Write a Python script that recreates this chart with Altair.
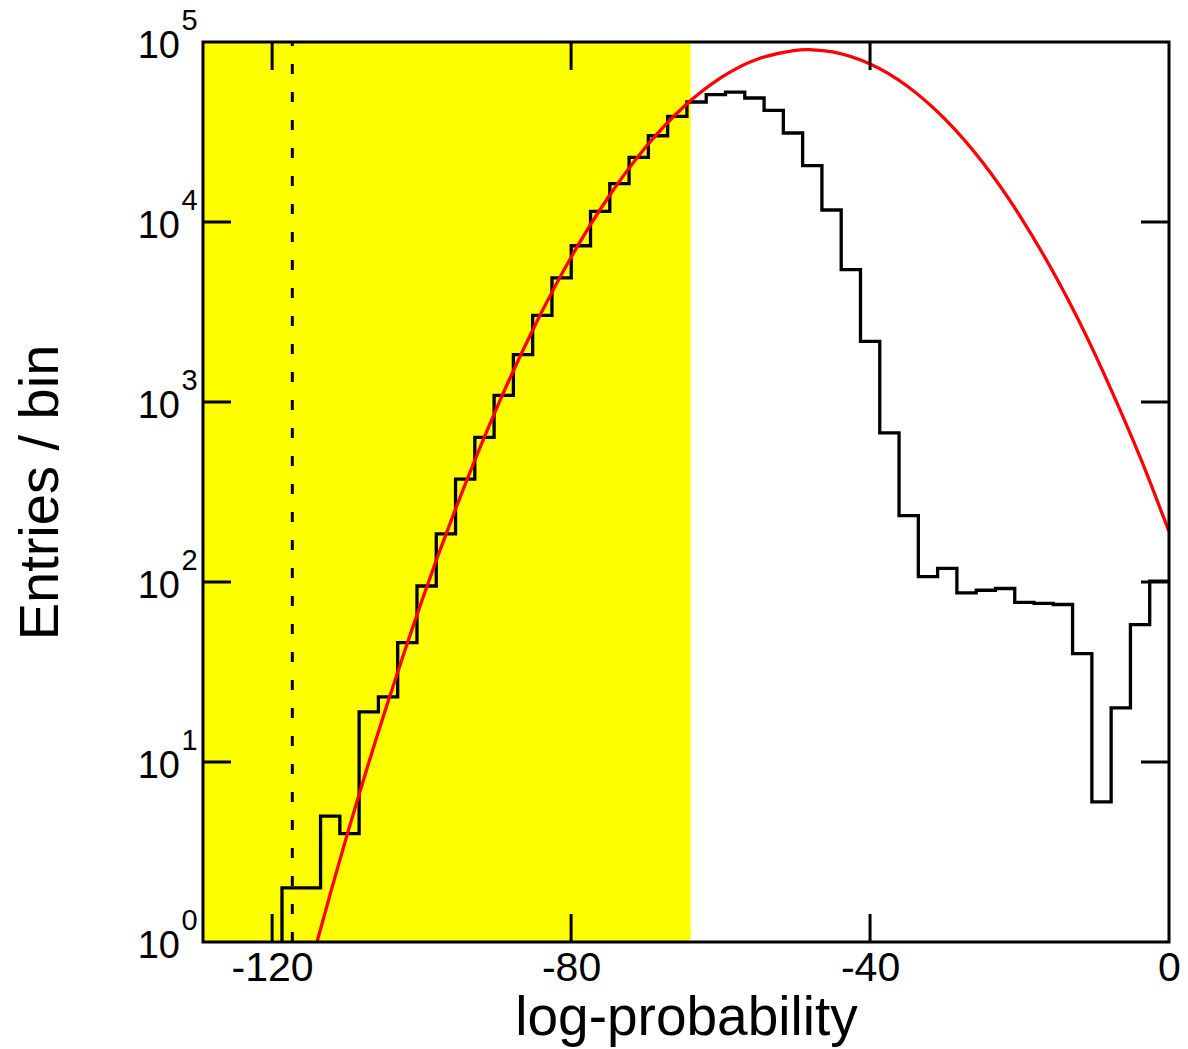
import altair as alt
import pandas as pd

FONT = "Liberation Sans, Arial, Helvetica, sans-serif"

# ---- axis ranges ----
X_MIN, X_MAX = -129.25, 0.0
Y_MIN, Y_MAX = 1, 100000

# ---- histogram (50 bins of width 2.58 starting at -129) ----
BIN_START = -129.0
BIN_WIDTH = 2.58
bin_counts = [0, 0, 0, 0, 2, 2, 5, 4, 19, 23, 46, 95, 185, 373, 636, 1088, 1832,
              3030, 4887, 7380, 11450, 16330, 22850, 30150, 38620, 46430, 50960,
              52720, 48850, 41690, 31220, 20550, 11660, 5433, 2172, 673, 234, 107,
              119, 87, 90, 92, 77, 76, 75, 40, 6, 20, 58, 101]

# ---- red fitted curve ----
fit_logprob = [-114, -112, -110, -108, -105, -100, -95, -90, -85, -80, -75, -70,
               -65, -60, -55, -50, -48, -45, -40, -35, -30, -25, -20, -15, -10,
               -5, -2.5, 0]
fit_entries = [1.0, 2.0, 3.9, 7.4, 18.6, 78, 285, 916, 2580, 6370, 13770, 26100,
               43400, 63100, 80500, 89900, 90600, 88000, 75500, 56800, 37400,
               21600, 10900, 4840, 1880, 640, 356, 191]

# ---- other elements ----
cut_value = -117.3            # dashed vertical line
signal_region = [X_MIN, -64.0]  # yellow band
x_tick_values = [-120, -80, -40, 0]
x_minor_ticks = [-120, -80, -40]
y_decades = [1, 10, 100, 1000, 10000, 100000]
y_exponents = ["0", "1", "2", "3", "4", "5"]

W, H = 966, 900
TICK = 28

# ---- build tables ----
first = next(i for i, c in enumerate(bin_counts) if c > 0)
rows = [{"x": BIN_START + first * BIN_WIDTH, "y": Y_MIN, "idx": 0}]
for i in range(first, len(bin_counts)):
    rows.append({"x": BIN_START + i * BIN_WIDTH, "y": bin_counts[i], "idx": len(rows)})
rows.append({"x": BIN_START + len(bin_counts) * BIN_WIDTH, "y": bin_counts[-1], "idx": len(rows)})
hist_df = pd.DataFrame(rows)

fit_df = pd.DataFrame({"x": fit_logprob, "y": fit_entries})
band_df = pd.DataFrame({"x": [signal_region[0]], "x2": [signal_region[1]]})
cut_df = pd.DataFrame({"x": [cut_value]})
xt_df = pd.DataFrame({"x": x_minor_ticks})
yt_df = pd.DataFrame({"y": y_decades[1:-1]})
ylab_df = pd.DataFrame({"y": y_decades, "base": ["10"] * len(y_decades), "exp": y_exponents})
frame_df = pd.DataFrame({"k": [0]})

x_scale = alt.Scale(domain=[X_MIN, X_MAX], nice=False, zero=False)
y_scale = alt.Scale(type="log", domain=[Y_MIN, Y_MAX], nice=False)

x_axis = alt.Axis(
    title="log-probability", values=x_tick_values, ticks=False, domain=False, grid=False,
    labelExpr="datum.value < 0 ? '-' + abs(datum.value) : '' + datum.value",
    labelFont=FONT, labelFontSize=41, labelColor="black", labelPadding=6,
    labelFlush=False, labelOverlap=False,
    titleFont=FONT, titleFontSize=55, titleFontWeight="normal", titleColor="black",
    titleBaseline="alphabetic", titleAlign="center", titleX=W / 2, titleY=92,
)
y_axis = alt.Axis(
    title="Entries / bin", labels=False, ticks=False, domain=False, grid=False,
    titleFont=FONT, titleFontSize=56, titleFontWeight="normal", titleColor="black",
    titleBaseline="alphabetic", titleAlign="center", titleAngle=270,
    titleX=-146, titleY=H / 2,
)


def X(field="x"):
    return alt.X(f"{field}:Q", scale=x_scale, axis=x_axis)


def Y(field="y"):
    return alt.Y(f"{field}:Q", scale=y_scale, axis=y_axis)


band = alt.Chart(band_df).mark_rect(color="#ffff00").encode(
    x=X(), x2="x2:Q", y=alt.value(0), y2=alt.value(H)
)

hist = alt.Chart(hist_df).mark_line(
    color="black", strokeWidth=3.3, interpolate="step-after", strokeJoin="miter", strokeCap="butt"
).encode(x=X(), y=Y(), order="idx:Q")

fit = alt.Chart(fit_df).mark_line(
    color="#ff0000", strokeWidth=3.3, interpolate="natural", clip=True
).encode(x=X(), y=Y())

cut = alt.Chart(cut_df).mark_rule(
    color="black", strokeWidth=3, strokeDash=[10, 18]
).encode(x=X(), y=alt.value(H), y2=alt.value(0))

xt_bottom = alt.Chart(xt_df).mark_rule(color="black", strokeWidth=3).encode(
    x=X(), y=alt.value(H), y2=alt.value(H - TICK)
)
xt_top = alt.Chart(xt_df).mark_rule(color="black", strokeWidth=3).encode(
    x=X(), y=alt.value(0), y2=alt.value(TICK)
)
yt_left = alt.Chart(yt_df).mark_rule(color="black", strokeWidth=3).encode(
    y=Y(), x=alt.value(0), x2=alt.value(TICK)
)
yt_right = alt.Chart(yt_df).mark_rule(color="black", strokeWidth=3).encode(
    y=Y(), x=alt.value(W - TICK), x2=alt.value(W)
)

ylab_base = alt.Chart(ylab_df).mark_text(
    align="right", baseline="alphabetic", dx=-23, dy=15.5, fontSize=38, font=FONT, color="black"
).encode(x=alt.value(0), y=Y(), text="base:N")
ylab_exp = alt.Chart(ylab_df).mark_text(
    align="left", baseline="alphabetic", dx=-21.5, dy=-12.5, fontSize=29, font=FONT, color="black"
).encode(x=alt.value(0), y=Y(), text="exp:N")

frame = alt.Chart(frame_df).mark_rect(
    fillOpacity=0, stroke="black", strokeWidth=3
).encode(x=alt.value(0), x2=alt.value(W), y=alt.value(0), y2=alt.value(H))

chart = alt.layer(
    band, hist, fit, cut, xt_bottom, xt_top, yt_left, yt_right, ylab_base, ylab_exp, frame
).properties(
    width=W, height=H,
    autosize=alt.AutoSizeParams(type="none"),
    padding={"left": 203, "top": 42, "right": 19, "bottom": 107},
    background="white",
).configure_view(strokeWidth=0)

chart.save("out.html", embed_options={"renderer": "svg", "actions": False})
